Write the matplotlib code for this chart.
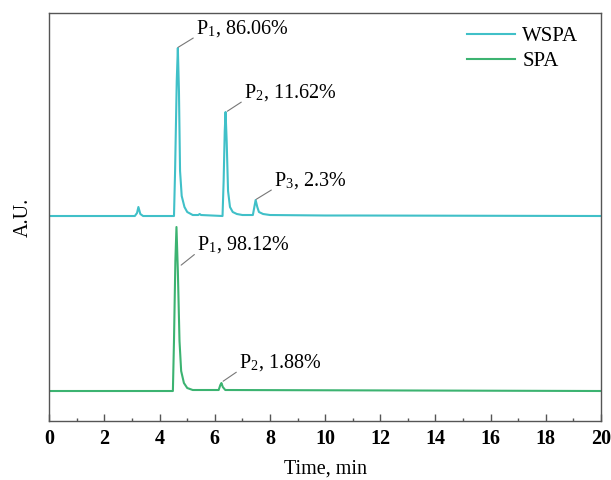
import matplotlib
matplotlib.use('Agg')
import matplotlib.pyplot as plt
from matplotlib.ticker import MultipleLocator

#%% 데이터 (그림에서 읽은 값, 세로축은 임의 단위)
# WSPA 크로마토그램
wspa_t = [0.0, 3.10, 3.18, 3.23, 3.30, 3.40, 4.52, 4.56, 4.62, 4.66, 4.70, 4.74, 4.80, 4.90, 5.00, 5.20,
          5.40, 5.45, 5.50, 6.28, 6.32, 6.36, 6.39, 6.43, 6.48, 6.55, 6.65, 6.80, 7.00, 7.38, 7.44, 7.48,
          7.54, 7.60, 7.75, 8.00, 10.0, 11.0, 20.0]
wspa_y = [205, 205, 208, 214, 207, 205, 205, 250, 340, 373, 330, 250, 225, 214, 209, 206,
          206, 207, 206, 205, 240, 290, 309, 280, 230, 214, 209, 207, 206, 206, 215, 221,
          214, 209, 207, 206, 205.5, 205.5, 205]

# SPA 크로마토그램
spa_t = [0.0, 4.48, 4.52, 4.57, 4.61, 4.66, 4.72, 4.78, 4.88, 5.00, 5.20, 6.14, 6.20, 6.24, 6.29, 6.38, 20.0]
spa_y = [30, 30, 80, 160, 194, 150, 80, 50, 38, 33, 31, 31, 36, 38, 34, 31, 30]

# 피크 라벨: (텍스트, 가리키는 점 t, y, 텍스트 위치 t, y)
wspa_labels = ['P$_\\mathregular{1}$, 86.06%', 'P$_\\mathregular{2}$, 11.62%', 'P$_\\mathregular{3}$, 2.3%']
wspa_xy = [(4.63, 373), (6.41, 309), (7.46, 221)]
wspa_xytext = [(5.32, 392), (7.06, 328), (8.15, 240)]
spa_labels = ['P$_\\mathregular{1}$, 98.12%', 'P$_\\mathregular{2}$, 1.88%']
spa_xy = [(4.74, 155), (6.26, 39)]
spa_xytext = [(5.36, 176), (6.88, 58)]

wspa_color = '#40c0c8'
spa_color = '#3cb371'

#%% 그래프
plt.rcParams['font.family'] = 'Liberation Serif'
plt.rcParams['mathtext.fontset'] = 'stix'

fig = plt.figure(figsize=(6.11, 4.8), dpi=100)
ax = fig.add_axes([0.0807, 0.1229, 0.9029, 0.85])

ax.plot(wspa_t, wspa_y, color=wspa_color, lw=1.5, label='WSPA')
ax.plot(spa_t, spa_y, color=spa_color, lw=1.5, label='SPA')

for labels, xys, xytexts in [(wspa_labels, wspa_xy, wspa_xytext), (spa_labels, spa_xy, spa_xytext)]:
    for lab, xy, xyt in zip(labels, xys, xytexts):
        ax.annotate(lab, xy=xy, xytext=xyt, ha='left', va='center', fontsize=14.5,
                    arrowprops=dict(arrowstyle='-', color='#777777', lw=0.8,
                                    shrinkA=0, shrinkB=1, relpos=(0, 0.15)))

ax.set_xlim(0, 20)
ax.set_ylim(0, 408)
ax.xaxis.set_major_locator(MultipleLocator(2))
ax.xaxis.set_minor_locator(MultipleLocator(1))
ax.tick_params(axis='x', which='major', direction='in', length=5, width=1, color='#555555', pad=6)
ax.tick_params(axis='x', which='minor', direction='in', length=2.5, width=1, color='#555555')
ax.set_yticks([])
for lab in ax.get_xticklabels():
    lab.set_fontweight('bold')
    lab.set_fontsize(14.5)
for sp in ax.spines.values():
    sp.set_color('#555555')
    sp.set_linewidth(1)

ax.set_xlabel('Time, min', fontsize=14.5, labelpad=7)
ax.set_ylabel('A.U.', fontsize=14.5, labelpad=12)

ax.legend(loc='upper left', bbox_to_anchor=(0.757, 0.966), frameon=False, fontsize=15,
          handlelength=2.3, handletextpad=0.35, labelspacing=0.25, borderpad=0, borderaxespad=0)

plt.savefig('out.png', dpi=100)
